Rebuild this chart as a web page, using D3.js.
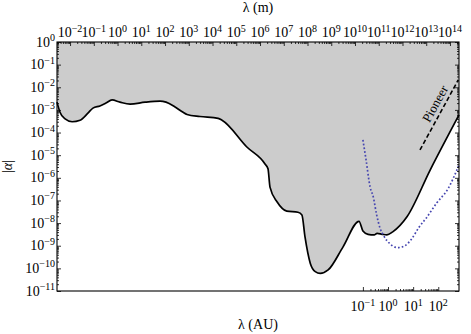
<!DOCTYPE html>
<meta charset="utf-8">
<body style="margin:0;background:#fff">
<script src="https://d3js.org/d3.v7.min.js"></script>
<div id="chart"></div>
<script>

// excluded region boundary: lambda (m), |alpha|
var boundLambda = [1e-2, 1.3e-2, 2.1e-2, 4.0e-2, 8.3e-2, 0.17, 0.27, 0.51, 0.89, 1.55, 3.2, 8.1, 32, 126, 219, 500,
  1.0e3, 1.5e3, 4.9e3, 2.6e4, 3.7e4, 3.6e5, 1.9e6, 2.5e6, 3.0e6, 5.8e6, 1.4e7, 3.9e7, 5.6e7, 7.4e7, 1.2e8,
  1.9e8, 3.0e8, 6.2e8, 2.4e9, 1.05e10, 1.5e10, 2.4e10, 4.2e10, 5.5e10, 8.7e10, 1.35e11, 2.3e11, 8.5e11, 7.1e12, 1e14];
var boundAlpha = [2.2e-3, 8.1e-4, 4.0e-4, 3.0e-4, 3.5e-4, 7.2e-4, 1.2e-3, 1.5e-3, 2.0e-3, 2.75e-3, 2.2e-3, 1.8e-3, 2.2e-3, 2.45e-3, 2.2e-3, 1.35e-3,
  8.1e-4, 6.3e-4, 5.1e-4, 4.2e-4, 3.5e-4, 2.3e-5, 4.1e-6, 2.5e-6, 3.9e-7, 8.5e-8, 3.4e-8, 3.0e-8, 2.3e-8, 2.5e-9, 1.7e-10,
  7.2e-11, 6.0e-11, 8.5e-11, 8.7e-10, 1.2e-8, 4.5e-9, 3.2e-9, 3.0e-9, 3.5e-9, 3.2e-9, 3.0e-9, 4.1e-9, 1.9e-8, 2.2e-6, 6.0e-4];

// dotted (blue) curve
var dotLambda = [1.5e10, 2.0e10, 2.9e10, 3.9e10, 5.2e10, 7.2e10, 1.0e11, 1.8e11, 2.8e11, 4.0e11, 7.1e11, 1.26e12, 2.5e12, 5.4e12, 1.3e13, 3.6e13, 1e14];
var dotAlpha = [4.7e-5, 6.2e-6, 3.9e-7, 1.4e-7, 2.5e-8, 6.0e-9, 2.8e-9, 1.2e-9, 8.7e-10, 8.3e-10, 1.0e-9, 1.9e-9, 6.3e-9, 1.9e-8, 7.8e-8, 3.2e-7, 3.7e-6];

// Pioneer anomaly line
var pioneerLambda = [2.8e12, 9.3e13];
var pioneerAlpha = [1.7e-5, 2.1e-2];

// axis ticks
var topTickExp = d3.range(-2, 15);      // 10^-2 .. 10^14 m
var leftTickExp = d3.range(-11, 1);     // 10^-11 .. 10^0
var auTickExp = [-1, 0, 1, 2];          // 10^-1 .. 10^2 AU
var AU = 1.496e11;

var margin = {top: 42, right: 12, bottom: 43, left: 57},
    width = 471 - margin.left - margin.right,
    height = 334 - margin.top - margin.bottom;

var font = "'Liberation Serif', 'Times New Roman', serif";

var svg = d3.select("#chart")
  .append("svg")
    .attr("width", width + margin.left + margin.right)
    .attr("height", height + margin.top + margin.bottom)
    .style("font-family", font)
  .append("g")
    .attr("transform", "translate(" + margin.left + "," + margin.top + ")");

var x = d3.scaleLog().domain([1e-2, 1e14]).range([0, width]);
// the top (twin) axis in the original figure has slightly wider limits
var xTop = d3.scaleLog().domain([Math.pow(10, -2.55), Math.pow(10, 14.38)]).range([0, width]);
var xAU = d3.scaleLog().domain([1e-2 / AU, 1e14 / AU]).range([0, width]);
var y = d3.scaleLog().domain([1e-11, 1]).range([height, 0]);

var bound = boundLambda.map(function(d, i) { return [d, boundAlpha[i]]; });
var dots = dotLambda.map(function(d, i) { return [d, dotAlpha[i]]; });
var pioneer = pioneerLambda.map(function(d, i) { return [d, pioneerAlpha[i]]; });

// excluded region
svg.append("path")
  .datum(bound)
  .attr("fill", "#cccccc")
  .attr("d", d3.area()
    .x(function(d) { return x(d[0]); })
    .y0(0)
    .y1(function(d) { return y(d[1]); })
    .curve(d3.curveMonotoneX));

svg.append("path")
  .datum(bound)
  .attr("fill", "none")
  .attr("stroke", "#000")
  .attr("stroke-width", 1.7)
  .attr("d", d3.line()
    .x(function(d) { return x(d[0]); })
    .y(function(d) { return y(d[1]); })
    .curve(d3.curveMonotoneX));

svg.append("path")
  .datum(dots)
  .attr("fill", "none")
  .attr("stroke", "#4646b0")
  .attr("stroke-width", 1.7)
  .attr("stroke-dasharray", "1.7,2.1")
  .attr("d", d3.line()
    .x(function(d) { return x(d[0]); })
    .y(function(d) { return y(d[1]); })
    .curve(d3.curveMonotoneX));

svg.append("path")
  .datum(pioneer)
  .attr("fill", "none")
  .attr("stroke", "#000")
  .attr("stroke-width", 1.6)
  .attr("stroke-dasharray", "4.5,2.5")
  .attr("d", d3.line()
    .x(function(d) { return x(d[0]); })
    .y(function(d) { return y(d[1]); }));

// Pioneer label along the dashed line
var p0 = [x(pioneer[0][0]), y(pioneer[0][1])],
    p1 = [x(pioneer[1][0]), y(pioneer[1][1])];
var ang = Math.atan2(p1[1] - p0[1], p1[0] - p0[0]) * 180 / Math.PI;
svg.append("text")
  .attr("transform", "translate(" + ((p0[0] + p1[0]) / 2) + "," + ((p0[1] + p1[1]) / 2) + ") rotate(" + ang + ")")
  .attr("x", 8)
  .attr("y", -4.5)
  .attr("text-anchor", "middle")
  .style("font-size", "13px")
  .text("Pioneer");

// minor tick values for log axes
function minors(lo, hi) {
  var out = [];
  for (var e = lo; e < hi; e++)
    for (var k = 2; k < 10; k++) out.push(k * Math.pow(10, e));
  return out;
}

function tickAxis(axisFn, sc, majors, mins, transform) {
  var g1 = svg.append("g").attr("transform", transform || null)
    .call(axisFn(sc).tickValues(majors).tickSize(-4).tickFormat(""));
  var g2 = svg.append("g").attr("transform", transform || null)
    .call(axisFn(sc).tickValues(mins).tickSize(-2).tickFormat(""));
  [g1, g2].forEach(function(g) {
    g.select(".domain").remove();
    g.selectAll("line").attr("stroke", "#000").attr("stroke-width", 0.8);
  });
}

var topMaj = topTickExp.map(function(e) { return Math.pow(10, e); });
var leftMaj = leftTickExp.map(function(e) { return Math.pow(10, e); });
var auMaj = auTickExp.map(function(e) { return Math.pow(10, e); });

tickAxis(d3.axisTop, xTop, topMaj, minors(-3, 15).filter(function(v) { return v > xTop.domain()[0] && v < xTop.domain()[1]; }));
tickAxis(d3.axisLeft, y, leftMaj, minors(-11, 0));
tickAxis(d3.axisRight, y, leftMaj, minors(-11, 0), "translate(" + width + ",0)");
tickAxis(d3.axisBottom, xAU, auMaj, minors(-1, 2), "translate(0," + height + ")");

// frame
svg.append("rect")
  .attr("width", width)
  .attr("height", height)
  .attr("fill", "none")
  .attr("stroke", "#000")
  .attr("stroke-width", 1.1);

// power-of-ten label
function powLabel(g, e, px, py, anchor) {
  var t = g.append("text")
    .attr("x", px)
    .attr("y", py)
    .attr("text-anchor", anchor)
    .style("font-size", "14px");
  t.append("tspan").text("10");
  t.append("tspan").attr("dy", -5.5).style("font-size", "10px").text(e < 0 ? "\u2212" + (-e) : e);
}

topTickExp.forEach(function(e) { powLabel(svg, e, xTop(Math.pow(10, e)), -5, "middle"); });
leftTickExp.forEach(function(e) { powLabel(svg, e, -2, y(Math.pow(10, e)) + 4.5, "end"); });
auTickExp.forEach(function(e) { powLabel(svg, e, xAU(Math.pow(10, e)), height + 20, "middle"); });

// axis titles
svg.append("text")
  .attr("x", width / 2)
  .attr("y", -30)
  .attr("text-anchor", "middle")
  .style("font-size", "14px")
  .text("\u03bb (m)");

svg.append("text")
  .attr("x", width / 2)
  .attr("y", height + 38)
  .attr("text-anchor", "middle")
  .style("font-size", "14px")
  .text("\u03bb (AU)");

svg.append("text")
  .attr("transform", "translate(" + (-45) + "," + (height / 2) + ") rotate(-90)")
  .attr("text-anchor", "middle")
  .style("font-size", "14px")
  .html("|<tspan font-style='italic'>\u03b1</tspan>|");

</script>
</body>
